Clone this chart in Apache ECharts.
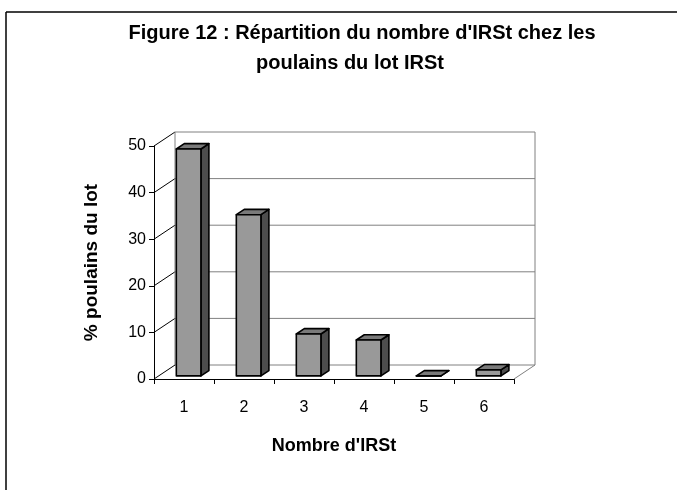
<!DOCTYPE html>
<html>
<head>
<meta charset="utf-8">
<script src="https://cdn.jsdelivr.net/npm/echarts@6/dist/echarts.min.js"></script>
<style>
html,body{margin:0;padding:0;background:#fff;}
#chart{width:677px;height:490px;}
</style>
</head>
<body>
<div id="chart"></div>
<script>
// ---- data ----
const titleLines = ["Figure 12 : Répartition du nombre d'IRSt chez les", "poulains du lot IRSt"];
const categories = ['1', '2', '3', '4', '5', '6'];
const values = [48.7, 34.6, 9.0, 7.7, 0, 1.3];
const yTicks = [0, 10, 20, 30, 40, 50];
const xAxisName = "Nombre d'IRSt";
const yAxisName = '% poulains du lot';

// ---- 3D look (styling only) ----
const DX = 21, DY = -14;          // depth offset of back wall
const F1 = 0.22, F2 = 0.60;       // bar depth range (fraction of depth)
const FONT = 'Liberation Sans, Arial, sans-serif';

const chart = echarts.init(document.getElementById('chart'), null, {renderer: 'canvas'});

function wallItem(params, api) {
  const cs = params.coordSys;
  const v = api.value(0);
  const x0 = cs.x, x1 = cs.x + cs.width;
  const p = api.coord([0, v]);
  const y = p[1];
  const children = [];
  const grey = '#808080';
  children.push({type: 'line', shape: {x1: x0, y1: y, x2: x0 + DX, y2: y + DY},
    style: {stroke: '#000', lineWidth: 1}});
  children.push({type: 'line', shape: {x1: x0 + DX, y1: y + DY, x2: x1 + DX, y2: y + DY},
    style: {stroke: grey, lineWidth: 1}});
  if (v === yTicks[0]) {
    children.push({type: 'line', shape: {x1: x1, y1: y, x2: x1 + DX, y2: y + DY},
      style: {stroke: grey, lineWidth: 1}});
  }
  if (v === yTicks[yTicks.length - 1]) {
    const yb = api.coord([0, yTicks[0]])[1];
    children.push({type: 'line', shape: {x1: x0 + DX, y1: y + DY, x2: x0 + DX, y2: yb + DY},
      style: {stroke: grey, lineWidth: 1}});
    children.push({type: 'line', shape: {x1: x1 + DX, y1: y + DY, x2: x1 + DX, y2: yb + DY},
      style: {stroke: grey, lineWidth: 1}});
  }
  return {type: 'group', children: children};
}

function barItem(params, api) {
  const idx = api.value(0);
  const val = api.value(1);
  const top = api.coord([idx, val]);
  const base = api.coord([idx, 0]);
  const w = api.size([1, 0])[0] * 0.41;
  const ox1 = F1 * DX, oy1 = F1 * DY;
  const ox2 = F2 * DX, oy2 = F2 * DY;
  const xl = top[0] - w / 2 + ox1, xr = top[0] + w / 2 + ox1;
  const yt = top[1] + oy1, yb = base[1] + oy1;
  const ddx = ox2 - ox1, ddy = oy2 - oy1;
  const stroke = {stroke: '#000', lineWidth: 1.6, lineJoin: 'round'};
  return {type: 'group', children: [
    {type: 'polygon', shape: {points: [[xr, yb], [xr + ddx, yb + ddy], [xr + ddx, yt + ddy], [xr, yt]]},
      style: Object.assign({fill: '#4d4d4d'}, stroke)},
    {type: 'polygon', shape: {points: [[xl, yt], [xr, yt], [xr + ddx, yt + ddy], [xl + ddx, yt + ddy]]},
      style: Object.assign({fill: '#7a7a7a'}, stroke)},
    {type: 'rect', shape: {x: xl, y: yt, width: xr - xl, height: yb - yt},
      style: Object.assign({fill: '#999999'}, stroke)}
  ]};
}

const option = {
  backgroundColor: '#fff',
  animation: false,
  graphic: [
    {type: 'line', shape: {x1: 6, y1: 12, x2: 677, y2: 12}, style: {stroke: '#000', lineWidth: 1.5}},
    {type: 'line', shape: {x1: 6, y1: 12, x2: 6, y2: 490}, style: {stroke: '#000', lineWidth: 1.5}},
    {type: 'text', x: 362, y: 33, style: {text: titleLines[0], font: 'bold 20px ' + FONT, fill: '#000', textAlign: 'center', textVerticalAlign: 'middle'}},
    {type: 'text', x: 350, y: 63, style: {text: titleLines[1], font: 'bold 20px ' + FONT, fill: '#000', textAlign: 'center', textVerticalAlign: 'middle'}}
  ],
  grid: {left: 154, top: 146, width: 360, height: 233, containLabel: false},
  xAxis: {
    type: 'category', data: categories,
    axisLine: {lineStyle: {color: '#000', width: 1}},
    axisTick: {show: true, length: 5, lineStyle: {color: '#000'}},
    axisLabel: {color: '#000', fontSize: 16, fontFamily: FONT, margin: 21},
    name: xAxisName, nameLocation: 'middle', nameGap: 58,
    nameTextStyle: {color: '#000', fontSize: 18, fontWeight: 'bold', fontFamily: FONT}
  },
  yAxis: {
    type: 'value', min: 0, max: 50, interval: 10,
    axisLine: {show: true, lineStyle: {color: '#000', width: 1}},
    axisTick: {show: true, length: 5, lineStyle: {color: '#000'}},
    axisLabel: {color: '#000', fontSize: 16, fontFamily: FONT, margin: 8},
    splitLine: {show: false},
    name: yAxisName, nameLocation: 'middle', nameGap: 53,
    nameTextStyle: {color: '#000', fontSize: 19, fontWeight: 'bold', fontFamily: FONT}
  },
  series: [
    {type: 'custom', name: 'walls', renderItem: wallItem, data: yTicks.map(v => [v]),
      encode: {y: 0}, z: 1, silent: true},
    {type: 'custom', name: 'bars', renderItem: barItem,
      data: values.map((v, i) => [i, v]), encode: {x: 0, y: 1}, z: 5}
  ]
};
chart.setOption(option);
</script>
</body>
</html>
